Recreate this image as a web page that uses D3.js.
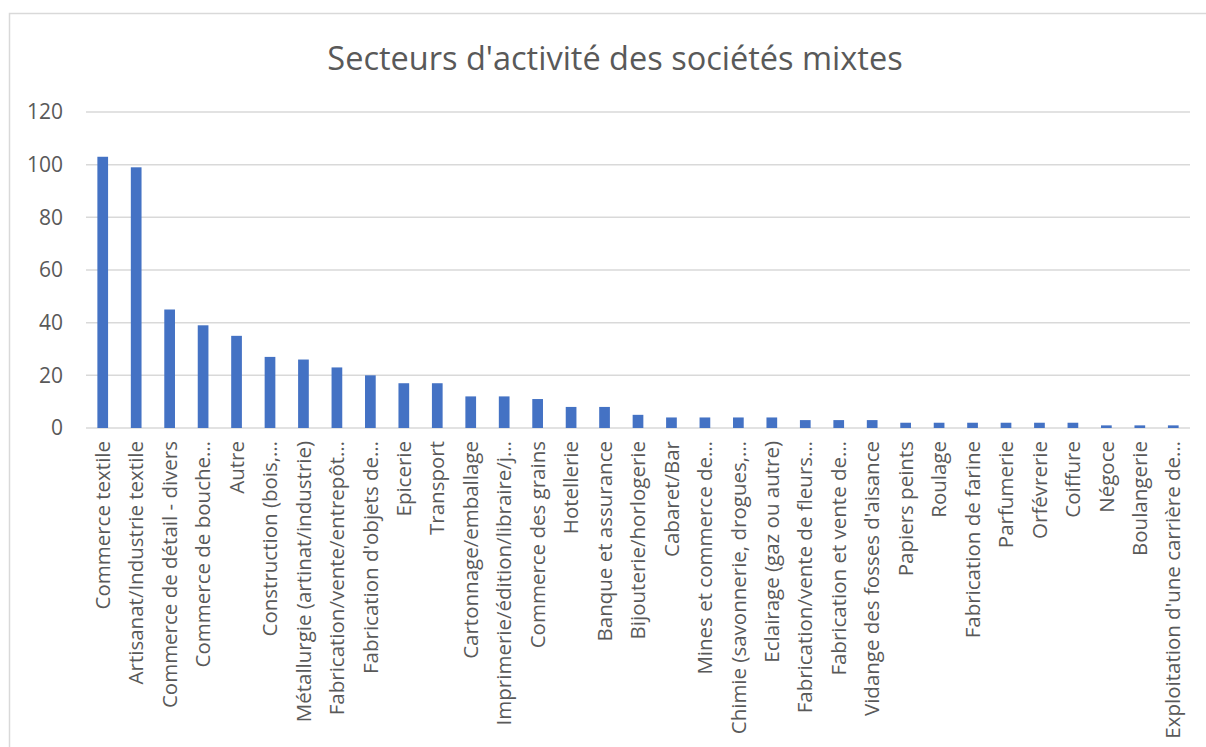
<!DOCTYPE html>
<html>
<head>
<meta charset="utf-8">
<script src="https://cdn.jsdelivr.net/npm/d3@7"></script>
<style>
  html, body { margin: 0; padding: 0; background: #fff; }
  svg { display: block; }
</style>
</head>
<body>
<script>
const titleText = "Secteurs d'activité des sociétés mixtes";

const categories = [
  "Commerce textile",
  "Artisanat/Industrie textile",
  "Commerce de détail - divers",
  "Commerce de bouche…",
  "Autre",
  "Construction (bois,…",
  "Métallurgie (artinat/industrie)",
  "Fabrication/vente/entrepôt…",
  "Fabrication d'objets de…",
  "Epicerie",
  "Transport",
  "Cartonnage/emballage",
  "Imprimerie/édition/libraire/j…",
  "Commerce des grains",
  "Hotellerie",
  "Banque et assurance",
  "Bijouterie/horlogerie",
  "Cabaret/Bar",
  "Mines et commerce de…",
  "Chimie (savonnerie, drogues,…",
  "Eclairage (gaz ou autre)",
  "Fabrication/vente de fleurs…",
  "Fabrication et vente de…",
  "Vidange des fosses d'aisance",
  "Papiers peints",
  "Roulage",
  "Fabrication de farine",
  "Parfumerie",
  "Orfévrerie",
  "Coiffure",
  "Négoce",
  "Boulangerie",
  "Exploitation d'une carrière de…"
];

const values = [
  103, 99, 45, 39, 35, 27, 26, 23, 20, 17, 17, 12, 12, 11, 8, 8, 5,
  4, 4, 4, 4, 3, 3, 3, 2, 2, 2, 2, 2, 2, 1, 1, 1
];

const yTicks = [0, 20, 40, 60, 80, 100, 120];

const W = 1206, H = 747;
const margin = { top: 112, left: 86, right: 16, bottom: 319 };
const textColor = "#595959";

const svg = d3.select("body").append("svg")
  .attr("width", W)
  .attr("height", H)
  .style("font-family", "'Open Sans', sans-serif");

// chart area border
svg.append("rect")
  .attr("x", 9.5).attr("y", 13.5)
  .attr("width", W + 20).attr("height", H + 20)
  .attr("fill", "none")
  .attr("stroke", "#d9d9d9")
  .attr("stroke-width", 1.5);

const x = d3.scaleBand()
  .domain(categories)
  .range([margin.left, W - margin.right])
  .paddingInner(0.68)
  .paddingOuter(0.34);

const y = d3.scaleLinear()
  .domain([0, 120])
  .range([H - margin.bottom, margin.top]);

// title
svg.append("text")
  .attr("x", 615)
  .attr("y", 70)
  .attr("text-anchor", "middle")
  .attr("fill", textColor)
  .style("font-size", "32.5px")
  .text(titleText);

// gridlines
svg.append("g")
  .attr("class", "grid")
  .selectAll("line")
  .data(yTicks)
  .enter()
  .append("line")
  .attr("x1", margin.left)
  .attr("x2", W - margin.right)
  .attr("y1", (d) => y(d))
  .attr("y2", (d) => y(d))
  .attr("stroke", "#d9d9d9")
  .attr("stroke-width", 1.5);

// y axis labels
const yAxis = d3.axisLeft(y).tickValues(yTicks).tickSize(0).tickPadding(0);
const yg = svg.append("g")
  .attr("transform", `translate(${margin.left - 23},0)`)
  .call(yAxis);
yg.select(".domain").remove();
yg.selectAll("text")
  .attr("fill", textColor)
  .style("font-size", "21px")
  .style("font-family", "'Open Sans', sans-serif");

// bars
svg.append("g")
  .attr("class", "bars")
  .selectAll("rect")
  .data(values)
  .enter()
  .append("rect")
  .attr("x", (d, i) => x(categories[i]))
  .attr("width", x.bandwidth())
  .attr("y", (d) => y(d))
  .attr("height", (d) => y(0) - y(d))
  .attr("fill", "#4472c4");

// category labels
const xAxis = d3.axisBottom(x).tickSize(0).tickPadding(0);
const xg = svg.append("g")
  .attr("transform", `translate(0,${y(0)})`)
  .call(xAxis);
xg.select(".domain").remove();
xg.selectAll("text")
  .attr("fill", textColor)
  .style("font-size", "20.5px")
  .style("font-family", "'Open Sans', sans-serif")
  .attr("text-anchor", "end")
  .attr("dy", "0.35em")
  .attr("transform", "translate(0,13) rotate(-90)")
  .attr("x", 0)
  .attr("y", 0);
</script>
</body>
</html>
